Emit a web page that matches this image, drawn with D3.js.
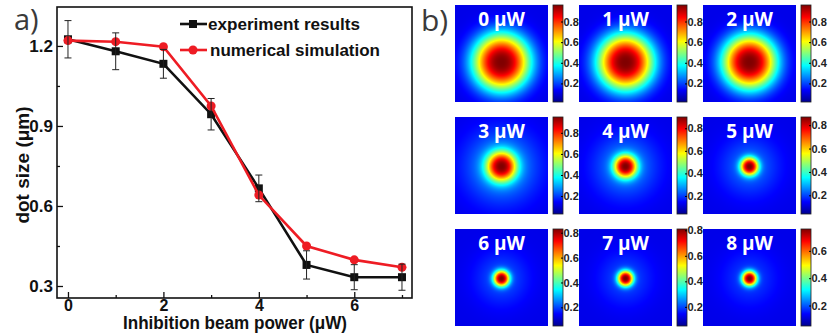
<!DOCTYPE html>
<html>
<head>
<meta charset="utf-8">
<script src="https://cdn.jsdelivr.net/npm/d3@7"></script>
<style>
  body { margin: 0; background: #fff; }
  svg { display: block; }
</style>
</head>
<body>
<svg id="fig" width="828" height="333"></svg>
<script>
// ---- panel a) data
const power = [0, 1, 2, 3, 4, 5, 6, 7];
const experiment = [1.225, 1.18, 1.133, 0.944, 0.666, 0.379, 0.333, 0.333];
const expError = [0.07, 0.069, 0.054, 0.059, 0.05, 0.053, 0.047, 0.049];
const simulation = [1.22, 1.216, 1.197, 0.975, 0.641, 0.45, 0.398, 0.37];
const yTicks = [0.3, 0.6, 0.9, 1.2];
const yMinor = [0.45, 0.75, 1.05];
const xTicks = [0, 2, 4, 6];
const xMinor = [1, 3, 5, 7];

// ---- panel b) data (one map per inhibition power)
const mapPower = [0, 1, 2, 3, 4, 5, 6, 7, 8];
const cbarMin = [0.02, 0.02, 0.02, 0.03, 0.04, 0.04, 0.05, 0.05, 0.05];
const cbarMax = [0.96, 0.96, 0.96, 0.95, 0.9, 0.87, 0.83, 0.81, 0.76];
const coreWidth = [28.5, 28, 27, 15, 11.5, 9, 8, 7.8, 7.5];
const haloAmp = [0, 0, 0, 0.22, 0.18, 0.14, 0.11, 0.1, 0.09];
const haloWidth = [1, 1, 1, 34, 30, 28, 26, 26, 26];
const cbarTicks = [0.2, 0.4, 0.6, 0.8];

const svg = d3.select("#fig");
const font = "'Liberation Sans', Arial, sans-serif";

// ================= a) =================
const x = d3.scaleLinear().domain([-0.23, 7.21]).range([57, 412]);
const y = d3.scaleLinear().domain([0.255, 1.346]).range([298, 7]);

const gA = svg.append("g");

gA.append("g")
  .attr("transform", "translate(57,0)")
  .call(d3.axisLeft(y).tickValues(yTicks).tickFormat(d3.format(".1f")).tickSizeInner(-6).tickSizeOuter(0).tickPadding(4))
  .call(g => g.select(".domain").remove())
  .call(g => g.selectAll("text").attr("font-size", 17).attr("font-weight", "bold").attr("font-family", font).attr("fill", "#111"));
gA.append("g")
  .attr("transform", "translate(57,0)")
  .call(d3.axisLeft(y).tickValues(yMinor).tickFormat("").tickSizeInner(-3).tickSizeOuter(0))
  .call(g => g.select(".domain").remove());

gA.append("g")
  .attr("transform", "translate(0,298)")
  .call(d3.axisBottom(x).tickValues(xTicks).tickFormat(d3.format("d")).tickSizeInner(-6).tickSizeOuter(0).tickPadding(2))
  .call(g => g.select(".domain").remove())
  .call(g => g.selectAll("text").attr("font-size", 16).attr("font-weight", "bold").attr("font-family", font).attr("fill", "#111"));
gA.append("g")
  .attr("transform", "translate(0,298)")
  .call(d3.axisBottom(x).tickValues(xMinor).tickFormat("").tickSizeInner(-3).tickSizeOuter(0))
  .call(g => g.select(".domain").remove());

gA.selectAll(".tick line").attr("stroke", "#111").attr("stroke-width", 1.3);

gA.append("rect")
  .attr("x", 57).attr("y", 7).attr("width", 355).attr("height", 291)
  .attr("fill", "none").attr("stroke", "#111").attr("stroke-width", 1.6);

const line = d3.line();
const expPts = power.map((p, i) => [x(p), y(experiment[i])]);
const simPts = power.map((p, i) => [x(p), y(simulation[i])]);

gA.append("path").attr("d", line(expPts)).attr("fill", "none").attr("stroke", "#111").attr("stroke-width", 2.6);
gA.selectAll(".sq").data(expPts).enter().append("rect")
  .attr("x", d => d[0] - 4).attr("y", d => d[1] - 4).attr("width", 8).attr("height", 8).attr("fill", "#111");

gA.append("path").attr("d", line(simPts)).attr("fill", "none").attr("stroke", "#ee1c24").attr("stroke-width", 2.6);
gA.selectAll(".dot").data(simPts).enter().append("circle")
  .attr("cx", d => d[0]).attr("cy", d => d[1]).attr("r", 4.5).attr("fill", "#ee1c24");

// error bars
const eb = gA.append("g").attr("stroke", "#222").attr("stroke-width", 1);
power.forEach((p, i) => {
  const cx = x(p), y0 = y(experiment[i] - expError[i]), y1 = y(experiment[i] + expError[i]);
  eb.append("line").attr("x1", cx).attr("x2", cx).attr("y1", y0).attr("y2", y1);
  eb.append("line").attr("x1", cx - 3.5).attr("x2", cx + 3.5).attr("y1", y0).attr("y2", y0);
  eb.append("line").attr("x1", cx - 3.5).attr("x2", cx + 3.5).attr("y1", y1).attr("y2", y1);
});

// legend
const leg = gA.append("g").attr("font-family", font).attr("font-weight", "bold").attr("font-size", 17).attr("fill", "#111");
leg.append("line").attr("x1", 180).attr("x2", 207).attr("y1", 24).attr("y2", 24).attr("stroke", "#111").attr("stroke-width", 2.6);
leg.append("rect").attr("x", 189).attr("y", 20).attr("width", 8).attr("height", 8).attr("fill", "#111");
leg.append("text").attr("x", 208).attr("y", 30).attr("textLength", 152).attr("lengthAdjust", "spacingAndGlyphs").text("experiment results");
leg.append("line").attr("x1", 180).attr("x2", 207).attr("y1", 50).attr("y2", 50).attr("stroke", "#ee1c24").attr("stroke-width", 2.6);
leg.append("circle").attr("cx", 193).attr("cy", 50).attr("r", 4.5).attr("fill", "#ee1c24");
leg.append("text").attr("x", 210).attr("y", 56).attr("textLength", 170).attr("lengthAdjust", "spacingAndGlyphs").text("numerical simulation");

// axis titles
svg.append("text")
  .attr("x", 235).attr("y", 329).attr("text-anchor", "middle")
  .attr("font-family", font).attr("font-weight", "bold").attr("font-size", 18).attr("fill", "#111")
  .attr("textLength", 224).attr("lengthAdjust", "spacingAndGlyphs")
  .text("Inhibition beam power (\u03bcW)");
svg.append("text")
  .attr("transform", "translate(29,165) rotate(-90)").attr("text-anchor", "middle")
  .attr("font-family", font).attr("font-weight", "bold").attr("font-size", 19).attr("fill", "#111")
  .text("dot size (\u03bcm)");

svg.append("text").attr("x", 14).attr("y", 30).attr("font-family", "'Open Sans', sans-serif")
  .attr("font-size", 29).attr("fill", "#3a3a3a").text("a)");
svg.append("text").attr("x", 421).attr("y", 31).attr("font-family", "'Open Sans', sans-serif")
  .attr("font-size", 30).attr("fill", "#3a3a3a").text("b)");

// ================= b) =================
const jetStops = [0, 0.125, 0.375, 0.625, 0.875, 1];
const jetColors = ["#00008f", "#0000ff", "#00ffff", "#ffff00", "#ff0000", "#800000"];
const jet = d3.scaleLinear().domain(jetStops).range(jetColors).clamp(true);

const defs = svg.append("defs");
const grad = defs.append("linearGradient").attr("id", "jet").attr("x1", 0).attr("x2", 0).attr("y1", 1).attr("y2", 0);
jetStops.forEach((s, i) => grad.append("stop").attr("offset", s).attr("stop-color", jetColors[i]));

const colX = [455, 579, 703];
const rowY = [5, 117, 229];
const imgW = 93, imgH = 97;
const bg = 0.1;

mapPower.forEach((p, i) => {
  const px = colX[i % 3], py = rowY[Math.floor(i / 3)];
  const cyFrac = i < 3 ? 0.59 : 0.51;

  // heat map image
  const canvas = document.createElement("canvas");
  canvas.width = imgW; canvas.height = imgH;
  const ctx = canvas.getContext("2d");
  const img = ctx.createImageData(imgW, imgH);
  const cA = 1 - bg - haloAmp[i];
  for (let r = 0; r < imgH; r++) {
    for (let c = 0; c < imgW; c++) {
      const dx = c + 0.5 - imgW / 2, dy = r + 0.5 - imgH * cyFrac;
      const d = Math.sqrt(dx * dx + dy * dy);
      const t = bg + cA * Math.exp(-Math.pow(d / coreWidth[i], 2.5)) +
        haloAmp[i] * Math.exp(-Math.pow(d / haloWidth[i], 2));
      const col = d3.rgb(jet(t));
      const k = (r * imgW + c) * 4;
      img.data[k] = col.r; img.data[k + 1] = col.g; img.data[k + 2] = col.b; img.data[k + 3] = 255;
    }
  }
  ctx.putImageData(img, 0, 0);
  svg.append("image").attr("x", px).attr("y", py).attr("width", imgW).attr("height", imgH)
    .attr("href", canvas.toDataURL());

  svg.append("text").attr("x", px + imgW / 2).attr("y", py + 21).attr("text-anchor", "middle")
    .attr("font-family", "'Open Sans', sans-serif").attr("font-weight", "bold").attr("font-size", 19)
    .attr("fill", "#fff").text(p + " \u03bcW");

  // colour bar
  const bx = px + imgW + 5, bw = 10;
  svg.append("rect").attr("x", bx).attr("y", py).attr("width", bw).attr("height", imgH)
    .attr("fill", "url(#jet)").attr("stroke", "#222").attr("stroke-width", 0.8);
  const cs = d3.scaleLinear().domain([cbarMin[i], cbarMax[i]]).range([py + imgH, py]);
  const ticks = cbarTicks.filter(v => v >= cbarMin[i] && v <= cbarMax[i]);
  svg.append("g")
    .attr("transform", `translate(${bx + bw},0)`)
    .call(d3.axisRight(cs).tickValues(ticks).tickFormat(d3.format(".1f")).tickSizeInner(-2).tickSizeOuter(0).tickPadding(0.5))
    .call(g => g.select(".domain").remove())
    .call(g => g.selectAll("text").attr("font-size", 11).attr("font-weight", "bold").attr("font-family", font).attr("fill", "#222"));
});
</script>
</body>
</html>
